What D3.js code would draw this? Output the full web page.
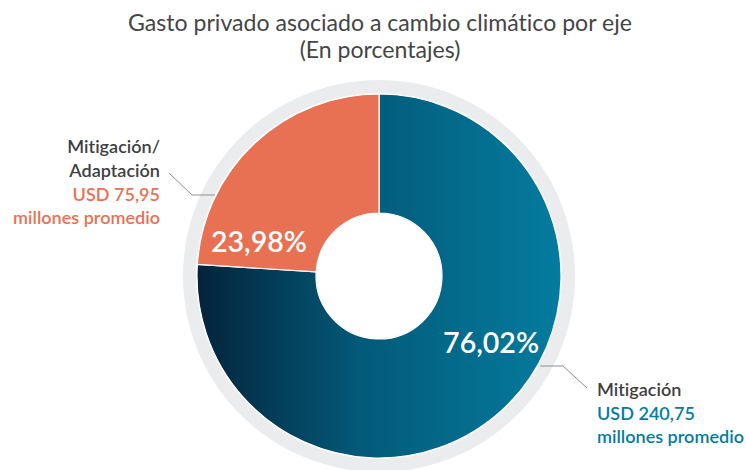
<!DOCTYPE html>
<html>
<head>
<meta charset="utf-8">
<script src="https://cdn.jsdelivr.net/npm/d3@7"></script>
<style>
  html, body { margin: 0; padding: 0; background: #ffffff; }
  svg { display: block; font-family: "Lato", "Noto Sans", sans-serif; font-variant-ligatures: none; font-feature-settings: "liga" 0, "clig" 0; }
</style>
</head>
<body>
<svg id="chart" width="746" height="470"></svg>
<script>
// ---- data ----
const titleLines = ["Gasto privado asociado a cambio climático por eje", "(En porcentajes)"];
const categories = ["Mitigación", "Mitigación/Adaptación"];
const shares = [76.02, 23.98];
const shareLabels = ["76,02%", "23,98%"];
const amountLabels = ["USD 240,75", "USD 75,95"];
const amountUnit = "millones promedio";
const nameLines = [["Mitigación"], ["Mitigación/", "Adaptación"]];

// ---- layout ----
const W = 746, H = 470;
const cx = 379, cy = 276;
const rInner = 63, rOuter = 182, ringInner = 183, ringOuter = 196;
const colors = { orange: "#e87154", blueL: "#047c9f", blueD: "#04233b", ring: "#ebecee", text: "#474747" };

const svg = d3.select("#chart");
const defs = svg.append("defs");
const grad = defs.append("linearGradient")
  .attr("id", "blueGrad").attr("gradientUnits", "userSpaceOnUse")
  .attr("x1", -rOuter).attr("x2", rOuter).attr("y1", 0).attr("y2", 0);
grad.append("stop").attr("offset", "0%").attr("stop-color", colors.blueD);
grad.append("stop").attr("offset", "45%").attr("stop-color", "#035a79");
grad.append("stop").attr("offset", "100%").attr("stop-color", colors.blueL);

// fit helper: scale font-size so that a text's width matches a target
function fit(sel, target) {
  const w = sel.node().getComputedTextLength();
  const fs = parseFloat(sel.attr("font-size"));
  sel.attr("font-size", fs * target / w);
  return fs * target / w;
}

// title
const titleSel = svg.append("g").selectAll("text").data(titleLines).join("text")
  .attr("x", 380).attr("y", (d, i) => 31 + i * 27)
  .attr("text-anchor", "middle")
  .attr("font-size", 21).attr("fill", "#454545")
  .text(d => d);
const tfs = fit(d3.select(titleSel.nodes()[0]), 504);
titleSel.attr("font-size", tfs);

const g = svg.append("g").attr("transform", `translate(${cx},${cy})`);

// grey ring
g.append("path")
  .attr("d", d3.arc()({ innerRadius: ringInner, outerRadius: ringOuter, startAngle: 0, endAngle: 2 * Math.PI }))
  .attr("fill", colors.ring);

const pie = d3.pie().sort(null).value(d => d);
const arcs = pie(shares);
const arc = d3.arc().innerRadius(rInner).outerRadius(rOuter);
const fills = ["url(#blueGrad)", colors.orange];

g.append("g").selectAll("path").data(arcs).join("path")
  .attr("d", arc)
  .attr("fill", (d, i) => fills[i])
  .attr("stroke", "#ffffff").attr("stroke-width", 1.2);

// percentage labels (placed inside each slice at a chosen polar position)
const labelPolar = [
  a => ({ ang: a.startAngle + (a.endAngle - a.startAngle) * 0.44, r: 130 }),
  a => ({ ang: a.startAngle + (a.endAngle - a.startAngle) * 0.145, r: 125 })
];
const pctSel = g.append("g").selectAll("text").data(arcs).join("text")
  .attr("x", (d, i) => { const p = labelPolar[i](d); return p.r * Math.sin(p.ang); })
  .attr("y", (d, i) => { const p = labelPolar[i](d); return -p.r * Math.cos(p.ang) + 11; })
  .attr("text-anchor", "middle")
  .attr("font-size", 30).attr("font-weight", 600).attr("fill", "#ffffff")
  .text((d, i) => shareLabels[i]);
const pfs = fit(d3.select(pctSel.nodes()[1]), 96);
pctSel.attr("font-size", pfs);

// leader lines
const leaderColor = "#8f8f8f";
function leader(i) {
  if (i === 0) {
    return [[540 - cx, 366 - cy], [563 - cx, 366 - cy], [587 - cx, 388 - cy]];
  }
  return [[215 - cx, 195 - cy], [192 - cx, 195 - cy], [169 - cx, 173 - cy]];
}
g.append("g").selectAll("path").data([0, 1]).join("path")
  .attr("d", i => d3.line()(leader(i)))
  .attr("fill", "none").attr("stroke", leaderColor).attr("stroke-width", 1);

// category labels
const labelBlocks = [
  { x: 597, y: 396, anchor: "start", color: colors.blueL },
  { x: 160, y: 153, anchor: "end", color: colors.orange }
];
// size the labels so "millones promedio" spans ~147px
const probe = svg.append("text").attr("font-size", 19).attr("font-weight", 600).text(amountUnit);
const lfs = fit(probe, 147);
probe.remove();

labelBlocks.forEach((b, i) => {
  const t = svg.append("text").attr("x", b.x).attr("y", b.y)
    .attr("text-anchor", b.anchor).attr("font-size", lfs).attr("font-weight", 600);
  const lines = nameLines[i];
  lines.forEach((ln, k) => {
    t.append("tspan").attr("x", b.x).attr("dy", k === 0 ? 0 : 24).attr("fill", "#3f3f3f").text(ln);
  });
  t.append("tspan").attr("x", b.x).attr("dy", 24).attr("fill", b.color).text(amountLabels[i]);
  t.append("tspan").attr("x", b.x).attr("dy", 23).attr("fill", b.color).text(amountUnit);
});
</script>
</body>
</html>
